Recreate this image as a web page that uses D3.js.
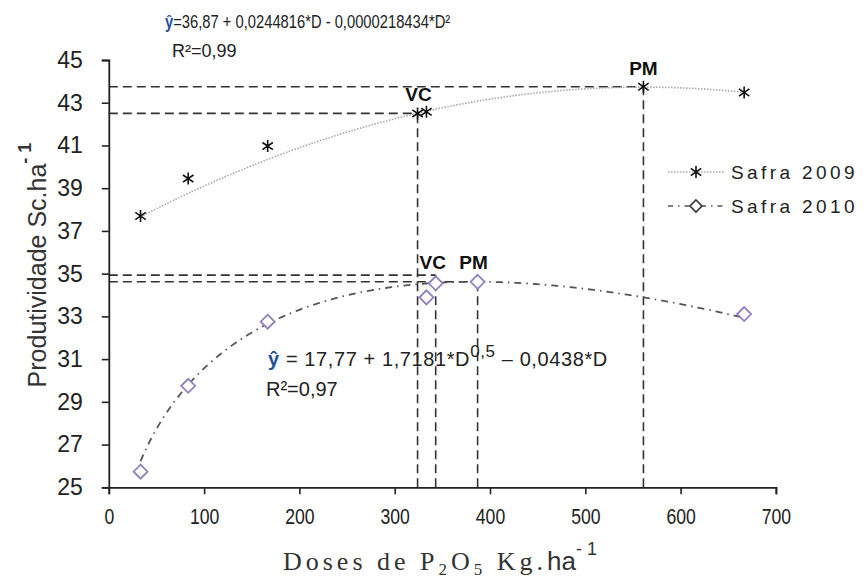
<!DOCTYPE html>
<html>
<head>
<meta charset="utf-8">
<script src="https://cdn.jsdelivr.net/npm/d3@7"></script>
<style>
body { margin: 0; background: #fff; }
text { font-family: "Liberation Sans", Arial, sans-serif; fill: #222; }
</style>
</head>
<body>
<script>
// observed doses (kg/ha of P2O5)
var doses = [33.3, 83.3, 166.7, 333.3, 666.7];
var safra2009 = [37.7, 39.45, 40.97, 42.58, 43.48];
var safra2010 = [25.73, 29.75, 32.75, 33.89, 33.11];

// fitted equations shown on the chart
var coef2009 = [36.87, 0.0244816, -0.0000218434];   // y = a + b*D + c*D^2
var coef2010 = [17.77, 1.7181, -0.0438];            // y = a + b*D^0.5 + c*D

// VC / PM points
var marks2009 = [{ d: 324, v: 42.5, label: "VC" }, { d: 561, v: 43.75, label: "PM" }];
var marks2010 = [{ d: 343, v: 34.55, label: "VC" }, { d: 387, v: 34.62, label: "PM" }];
var hLines2010 = [{ d: 343, v: 34.93 }, { d: 387, v: 34.62 }];

var xTicks = [0, 100, 200, 300, 400, 500, 600, 700];
var yTicks = [25, 27, 29, 31, 33, 35, 37, 39, 41, 43, 45];

var width = 868, height = 579;

var x = d3.scaleLinear().domain([0, 700]).range([108.8, 775.9]);
var y = d3.scaleLinear().domain([25, 45]).range([487.3, 60]);

var svg = d3.select("body").append("svg")
    .attr("width", width)
    .attr("height", height);

svg.append("rect").attr("width", width).attr("height", height).attr("fill", "#fff");

function fit2009(d) { return coef2009[0] + coef2009[1] * d + coef2009[2] * d * d; }
function fit2010(d) { return coef2010[0] + coef2010[1] * Math.sqrt(d) + coef2010[2] * d; }

var curveDoses = d3.range(33.3, 667, 2);
var line = d3.line()
    .x(function(d){ return x(d[0]); })
    .y(function(d){ return y(d[1]); })
    .curve(d3.curveMonotoneX);

// reference dashed lines
var dash = svg.append("g")
    .attr("stroke", "#333")
    .attr("stroke-width", 1.6)
    .attr("stroke-dasharray", "9,5")
    .attr("fill", "none");

marks2009.forEach(function(m){
    dash.append("line").attr("x1", x(0)).attr("x2", x(m.d)).attr("y1", y(m.v)).attr("y2", y(m.v));
    dash.append("line").attr("x1", x(m.d)).attr("x2", x(m.d)).attr("y1", y(25)).attr("y2", y(m.v));
});
hLines2010.forEach(function(m){
    dash.append("line").attr("x1", x(0)).attr("x2", x(m.d)).attr("y1", y(m.v)).attr("y2", y(m.v));
    dash.append("line").attr("x1", x(m.d)).attr("x2", x(m.d)).attr("y1", y(25)).attr("y2", y(m.v));
});

// fitted curves
svg.append("path")
    .datum(curveDoses.map(function(d){ return [d, fit2009(d)]; }))
    .attr("d", line)
    .attr("fill", "none")
    .attr("stroke", "#a8a8a8")
    .attr("stroke-width", 1.6)
    .attr("stroke-dasharray", "1.5,1.5");

svg.append("path")
    .datum(curveDoses.map(function(d){ return [d, fit2010(d)]; }))
    .attr("d", line)
    .attr("fill", "none")
    .attr("stroke", "#555")
    .attr("stroke-width", 1.8)
    .attr("stroke-dasharray", "7,5,1.5,5");

// markers
function asterisk(g, cx, cy) {
    var r = 6;
    g.append("path")
        .attr("d", "M" + cx + "," + (cy - r) + "V" + (cy + r) +
            "M" + (cx - r * 0.87) + "," + (cy - r * 0.6) + "L" + (cx + r * 0.87) + "," + (cy + r * 0.6) +
            "M" + (cx - r * 0.87) + "," + (cy + r * 0.6) + "L" + (cx + r * 0.87) + "," + (cy - r * 0.6))
        .attr("stroke", "#111")
        .attr("stroke-width", 1.6)
        .attr("fill", "none");
}
function diamond(g, cx, cy) {
    var r = 7;
    g.append("path")
        .attr("d", "M" + cx + "," + (cy - r) + "L" + (cx + r) + "," + cy + "L" + cx + "," + (cy + r) + "L" + (cx - r) + "," + cy + "Z")
        .attr("stroke", "#9080c0")
        .attr("stroke-width", 1.8)
        .attr("fill", "#fff");
}

var markers = svg.append("g");
doses.forEach(function(d, i){ diamond(markers, x(d), y(safra2010[i])); });
marks2010.forEach(function(m){ diamond(markers, x(m.d), y(m.v)); });
doses.forEach(function(d, i){ asterisk(markers, x(d), y(safra2009[i])); });
marks2009.forEach(function(m){ asterisk(markers, x(m.d), y(m.v)); });

// VC / PM labels
function bold(px, py, t) {
    svg.append("text").attr("x", px).attr("y", py).attr("text-anchor", "middle")
        .style("font-size", "19px").style("font-weight", "bold").style("fill", "#111").text(t);
}
bold(x(324) + 1, y(42.5) - 12, "VC");
bold(x(561), y(43.75) - 12, "PM");
bold(x(343) - 3, y(34.93) - 6, "VC");
bold(x(387) - 4, y(34.93) - 6, "PM");

// axes
var xAxis = svg.append("g")
    .attr("transform", "translate(0," + y(25) + ")")
    .call(d3.axisBottom(x).tickValues(xTicks).tickSize(7).tickPadding(14));
var yAxis = svg.append("g")
    .attr("transform", "translate(" + x(0) + ",0)")
    .call(d3.axisLeft(y).tickValues(yTicks).tickSize(7).tickPadding(19));

[xAxis, yAxis].forEach(function(a){
    a.select(".domain").attr("stroke", "#222").attr("stroke-width", 1.8);
    a.selectAll(".tick line").attr("stroke", "#222").attr("stroke-width", 1.6);
    a.selectAll(".tick text").attr("fill", "#222");
});
xAxis.selectAll(".tick text")
    .attr("transform", "scale(0.8,1)")
    .style("font-size", "22px");
yAxis.selectAll(".tick text")
    .style("font-size", "23px");

// axis titles
var yTitle = svg.append("text")
    .attr("transform", "translate(46,265) rotate(-90)")
    .attr("text-anchor", "middle")
    .style("font-size", "25px")
    .style("fill", "#333");
yTitle.append("tspan").text("Produtividade Sc.ha");
yTitle.append("tspan").attr("dy", -15).style("font-size", "18px").style("font-weight", "bold").text("- 1");

var xTitle = svg.append("text")
    .attr("x", 440).attr("y", 570)
    .attr("text-anchor", "middle")
    .style("font-family", "'Liberation Serif', 'Times New Roman', serif")
    .style("font-size", "26px")
    .style("letter-spacing", "4px")
    .style("fill", "#333");
xTitle.append("tspan").text("Doses de P");
xTitle.append("tspan").attr("dy", 5).style("font-size", "17px").text("2");
xTitle.append("tspan").attr("dy", -5).text("O");
xTitle.append("tspan").attr("dy", 5).style("font-size", "17px").text("5");
xTitle.append("tspan").attr("dy", -5).text(" Kg.");
xTitle.append("tspan").style("font-family", "'Liberation Sans', Arial, sans-serif").style("letter-spacing", "0px").text("ha");
xTitle.append("tspan").attr("dy", -15).style("font-family", "'Liberation Sans', Arial, sans-serif")
    .style("letter-spacing", "0px").style("font-size", "18px").text("- 1");

// equations
var eq1 = svg.append("text").attr("transform", "translate(165,28) scale(0.82,1)").style("font-size", "18px");
eq1.append("tspan").style("fill", "#1f4e9a").style("font-weight", "bold").text("ŷ");
eq1.append("tspan").text("=36,87 + 0,0244816*D  - 0,0000218434*D²");
svg.append("text").attr("x", 172).attr("y", 57).style("font-size", "18px").text("R²=0,99");

var eq2 = svg.append("text").attr("x", 268).attr("y", 366).style("font-size", "20px").style("letter-spacing", "0.6px");
eq2.append("tspan").style("fill", "#1f4e9a").style("font-weight", "bold").text("ŷ");
eq2.append("tspan").text(" = 17,77 + 1,7181*D");
eq2.append("tspan").attr("dy", -9).style("font-size", "17px").text("0,5");
eq2.append("tspan").attr("dy", 9).text(" – 0,0438*D");
svg.append("text").attr("x", 266).attr("y", 396).style("font-size", "20px").text("R²=0,97");

// legend
var legend = svg.append("g").attr("transform", "translate(668,172)");
var legendItems = [
    { name: "Safra 2009", dash: "1.5,1.5", color: "#a8a8a8", mark: asterisk },
    { name: "Safra 2010", dash: "5,5,1.5,5", color: "#555", mark: diamond }
];
legendItems.forEach(function(it, i){
    var g = legend.append("g").attr("transform", "translate(0," + (i * 34) + ")");
    g.append("line").attr("x1", 0).attr("x2", 56).attr("y1", 0).attr("y2", 0)
        .attr("stroke", it.color).attr("stroke-width", 1.6).attr("stroke-dasharray", it.dash);
    if (it.mark === diamond) {
        g.append("path").attr("d", "M28,-6L34,0L28,6L22,0Z")
            .attr("stroke", "#333").attr("stroke-width", 1.6).attr("fill", "#fff");
    } else {
        it.mark(g, 28, 0);
    }
    g.append("text").attr("x", 63).attr("y", 7)
        .style("font-size", "19px").style("letter-spacing", "3.4px").text(it.name);
});
</script>
</body>
</html>
